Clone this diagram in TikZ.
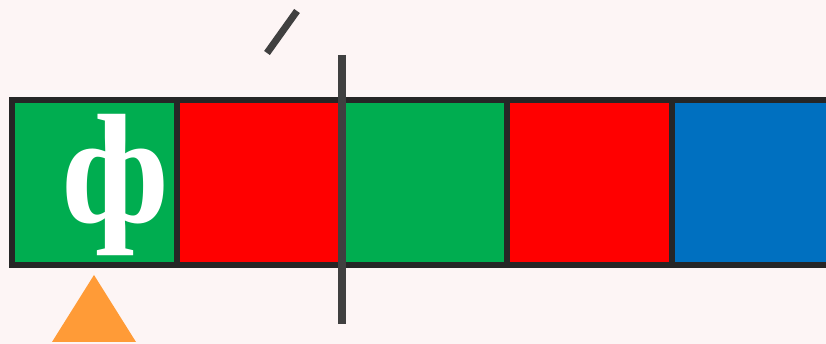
\documentclass[tikz,border=0pt]{standalone}
\usepackage{fontspec}
\newfontfamily\cyrserif{Liberation Serif}
\usetikzlibrary{positioning}
\definecolor{bgpink}{HTML}{FDF5F5}
\definecolor{cellborder}{HTML}{262626}
\definecolor{cutgray}{HTML}{404040}
\definecolor{cellgreen}{HTML}{00AD50}
\definecolor{cellred}{HTML}{FF0000}
\definecolor{cellblue}{HTML}{0070C0}
\definecolor{markorange}{HTML}{FF9B37}
\tikzset{cell/.style = {draw = cellborder, line width = 6pt, inner sep = 0pt,
                        outer sep = 0pt, minimum size = 165pt}}
\begin{document}
\begin{tikzpicture}[x = 1pt, y = 1pt]
      \fill [bgpink] (0,0) rectangle (826,344);
      \clip (0,0) rectangle (826,344);
      \node [cell, fill = cellgreen] (c1) at (94.5,161.5) {};
      \node [cell, fill = cellred, right = 0pt of c1] (c2) {};
      \node [cell, fill = cellgreen, right = 0pt of c2] (c3) {};
      \node [cell, fill = cellred, right = 0pt of c3] (c4) {};
      \node [cell, fill = cellblue, right = 0pt of c4] (c5) {};
      \node [anchor = base, text = white, inner sep = 0pt,
             font = \cyrserif\bfseries\fontsize{156}{156}\selectfont]
        (ef) at (115.5,121.4) {ф};
      \coordinate (cuttop) at (342,289);
      \coordinate (cutbot) at (342,20);
      \draw [cutgray, line width = 8pt] (cuttop) -- (cutbot);
      \coordinate (ticka) at (267,291);
      \coordinate (tickb) at (297,333);
      \draw [cutgray, line width = 7pt] (ticka) -- (tickb);
      \fill [markorange] (52,2) -- (94,69) -- (136,2) -- cycle;
    \end{tikzpicture}
\end{document}
